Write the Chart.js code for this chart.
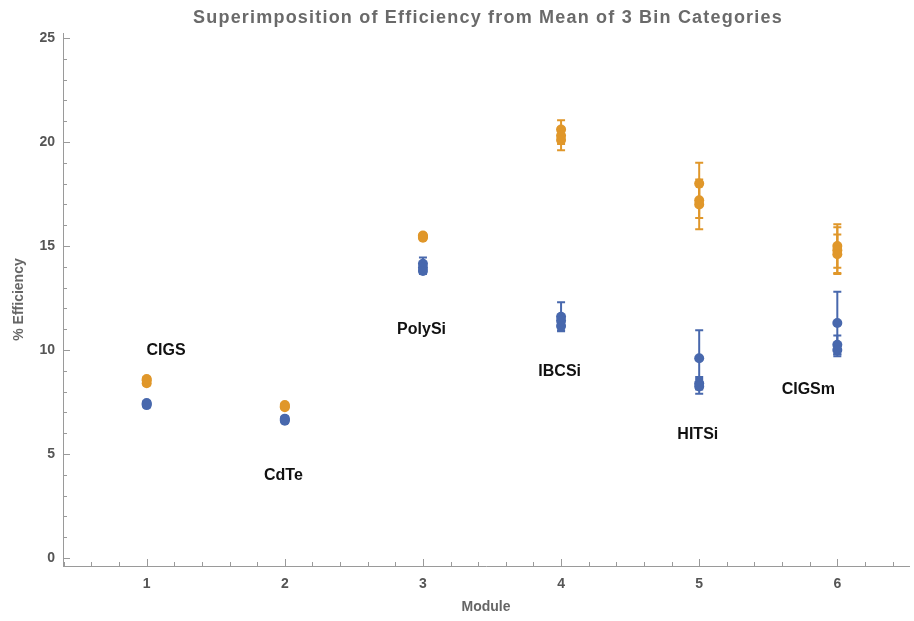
<!DOCTYPE html>
<html>
<head>
<meta charset="utf-8">
<script src="https://cdn.jsdelivr.net/npm/chart.js@4.4.0/dist/chart.umd.min.js"></script>
<style>
  html, body { margin: 0; padding: 0; background: #ffffff; }
  #wrap { width: 914px; height: 621px; }
</style>
</head>
<body>
<div id="wrap"><canvas id="chart" width="914" height="621"></canvas></div>
<script>
// module (x) of each bin mean, 3 bins per module
const binModule = [1, 1, 1, 2, 2, 2, 3, 3, 3, 4, 4, 4, 5, 5, 5, 6, 6, 6];

// orange series: bin means and error half-widths
const orangeMean = [8.4, 8.55, 8.6, 7.25, 7.35, 7.3, 15.4, 15.5, 15.45, 20.6, 20.3, 20.1, 18.0, 17.2, 17.0, 15.0, 14.8, 14.6];
const orangeErr = [0.1, 0.1, 0.1, 0.08, 0.08, 0.08, 0.1, 0.1, 0.1, 0.45, 0.4, 0.5, 1.0, 0.85, 1.2, 1.05, 1.1, 0.95];

// blue series: bin means and error half-widths
const blueMean = [7.35, 7.45, 7.4, 6.6, 6.7, 6.65, 14.15, 13.95, 13.8, 11.6, 11.4, 11.15, 9.6, 8.4, 8.25, 11.3, 10.25, 10.0];
const blueErr = [0.1, 0.1, 0.1, 0.1, 0.1, 0.1, 0.3, 0.2, 0.15, 0.7, 0.3, 0.2, 1.35, 0.3, 0.35, 1.5, 0.45, 0.3];

// text labels at data coordinates
const labelText = ["CIGS", "CdTe", "PolySi", "IBCSi", "HITSi", "CIGSm"];
const labelX = [1.14, 1.99, 2.99, 3.99, 4.99, 5.79];
const labelY = [9.95, 3.94, 10.96, 8.94, 5.91, 8.08];

const xTicks = [1, 2, 3, 4, 5, 6];
const yTicks = [0, 5, 10, 15, 20, 25];

const ORANGE = "#e0972a";
const BLUE = "#4868ad";
const AXIS = "#9a9a9a";
const FONT = "'Liberation Sans', Arial, sans-serif";

function pts(ys) {
    return ys.map((y, i) => ({ x: binModule[i], y: y }));
}

// error bars drawn from the data arrays through the scales
const errorBars = {
    id: "errorBars",
    beforeDatasetsDraw(chart) {
        const ctx = chart.ctx;
        const xs = chart.scales.x, ys = chart.scales.y;
        const series = [[orangeMean, orangeErr, ORANGE], [blueMean, blueErr, BLUE]];
        ctx.save();
        ctx.lineWidth = 2;
        series.forEach(([mean, err, col]) => {
            ctx.strokeStyle = col;
            mean.forEach((m, i) => {
                const px = xs.getPixelForValue(binModule[i]);
                const top = ys.getPixelForValue(m + err[i]);
                const bot = ys.getPixelForValue(m - err[i]);
                ctx.beginPath();
                ctx.moveTo(px, top); ctx.lineTo(px, bot);
                ctx.moveTo(px - 4, top); ctx.lineTo(px + 4, top);
                ctx.moveTo(px - 4, bot); ctx.lineTo(px + 4, bot);
                ctx.stroke();
            });
        });
        ctx.restore();
    }
};

// inward major/minor ticks, labels and title
const decor = {
    id: "decor",
    afterDraw(chart) {
        const ctx = chart.ctx;
        const xs = chart.scales.x, ys = chart.scales.y;
        const a = chart.chartArea;
        ctx.save();
        ctx.strokeStyle = AXIS;
        ctx.lineWidth = 1;
        ctx.beginPath();
        for (let v = 0.4; v <= 6.5; v += 0.2) {
            const vv = Math.round(v * 10) / 10;
            const px = Math.round(xs.getPixelForValue(vv)) + 0.5;
            const len = Number.isInteger(vv) ? 7 : 4;
            ctx.moveTo(px, a.bottom); ctx.lineTo(px, a.bottom - len);
        }
        for (let v = 0; v <= 25; v += 1) {
            const py = Math.round(ys.getPixelForValue(v)) + 0.5;
            const len = v % 5 === 0 ? 7 : 4;
            ctx.moveTo(a.left, py); ctx.lineTo(a.left + len, py);
        }
        ctx.stroke();

        ctx.fillStyle = "#111";
        ctx.font = "bold 16px " + FONT;
        ctx.textAlign = "center";
        ctx.textBaseline = "middle";
        labelText.forEach((t, i) => {
            ctx.fillText(t, xs.getPixelForValue(labelX[i]), ys.getPixelForValue(labelY[i]));
        });

        ctx.fillStyle = "#6a6a6a";
        ctx.font = "bold 18px " + FONT;
        ctx.letterSpacing = "1.2px";
        ctx.fillText("Superimposition of Efficiency from Mean of 3 Bin Categories", (a.left + a.right) / 2 + 2, 18);
        ctx.restore();
    }
};

new Chart(document.getElementById("chart").getContext("2d"), {
    type: "scatter",
    data: {
        datasets: [
            {
                label: "orange",
                data: pts(orangeMean),
                backgroundColor: ORANGE,
                borderColor: ORANGE,
                borderWidth: 0,
                pointRadius: 5,
            },
            {
                label: "blue",
                data: pts(blueMean),
                backgroundColor: BLUE,
                borderColor: BLUE,
                borderWidth: 0,
                pointRadius: 5,
            }
        ]
    },
    options: {
        responsive: false,
        animation: false,
        layout: { padding: { left: 0, right: 2, top: 33, bottom: 0 } },
        plugins: {
            legend: { display: false },
            tooltip: { enabled: false },
            title: { display: false }
        },
        scales: {
            x: {
                type: "linear",
                min: 0.394,
                max: 6.519,
                afterBuildTicks: s => { s.ticks = xTicks.map(v => ({ value: v })); },
                afterFit: s => { s.height = 55; },
                grid: { display: false, drawTicks: false },
                border: { display: true, color: AXIS, width: 1 },
                ticks: {
                    padding: 10,
                    color: "#555",
                    font: { family: FONT, size: 14, weight: "bold" }
                },
                title: {
                    display: true,
                    text: "Module",
                    color: "#666",
                    padding: { top: 0, bottom: 5 },
                    font: { family: FONT, size: 14, weight: "bold" }
                }
            },
            y: {
                type: "linear",
                min: -0.385,
                max: 25.24,
                afterBuildTicks: s => { s.ticks = yTicks.map(v => ({ value: v })); },
                afterFit: s => { s.width = 63; },
                grid: { display: false, drawTicks: false },
                border: { display: true, color: AXIS, width: 1 },
                ticks: {
                    padding: 8,
                    color: "#555",
                    font: { family: FONT, size: 14, weight: "bold" }
                },
                title: {
                    display: true,
                    text: "% Efficiency",
                    color: "#666",
                    padding: { top: 11, bottom: 0 },
                    font: { family: FONT, size: 14, weight: "bold" }
                }
            }
        }
    },
    plugins: [errorBars, decor]
});
</script>
</body>
</html>
